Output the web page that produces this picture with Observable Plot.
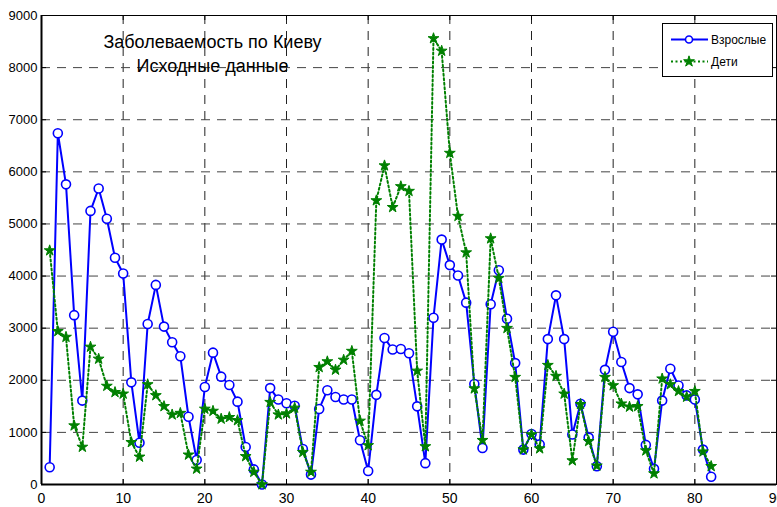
<!DOCTYPE html>
<html><head><meta charset="utf-8">
<script src="https://cdn.jsdelivr.net/npm/d3@7"></script>
<script src="https://cdn.jsdelivr.net/npm/@observablehq/plot@0.6"></script>
<style>
body{margin:0;background:#fff;}
#wrap{position:relative;width:777px;height:507px;overflow:hidden;}
#legend{position:absolute;left:662px;top:23px;width:109px;height:52px;border:1px solid #000;background:#fff;}
#legend svg{position:absolute;left:0;top:0;}
</style></head><body><div id="wrap"></div>
<script>
const days = [1,2,3,4,5,6,7,8,9,10,11,12,13,14,15,16,17,18,19,20,21,22,23,24,25,26,27,28,29,30,31,32,33,34,35,36,37,38,39,40,41,42,43,44,45,46,47,48,49,50,51,52,53,54,55,56,57,58,59,60,61,62,63,64,65,66,67,68,69,70,71,72,73,74,75,76,77,78,79,80,81,82];
const adults = [330,6740,5760,3250,1610,5250,5680,5100,4350,4050,1960,800,3080,3830,3030,2730,2460,1300,470,1870,2530,2070,1910,1590,720,290,0,1850,1630,1560,1510,680,190,1450,1810,1680,1630,1630,850,260,1720,2810,2590,2600,2520,1500,410,3200,4700,4210,4010,3490,1930,700,3460,4110,3180,2330,670,970,770,2790,3630,2790,960,1550,900,350,2200,2930,2350,1850,1730,760,300,1610,2220,1900,1710,1630,670,150];
const children = [4490,2940,2830,1130,720,2640,2410,1890,1770,1740,810,530,1920,1710,1500,1340,1370,570,300,1450,1410,1260,1290,1230,540,240,0,1580,1340,1360,1470,620,240,2250,2360,2200,2390,2560,1220,750,5450,6120,5320,5720,5630,2180,730,8560,8320,6360,5150,4450,1840,850,4720,3960,3000,2060,670,960,690,2290,2080,1740,460,1540,830,360,2060,1900,1550,1490,1500,650,210,2030,1920,1790,1680,1790,630,350];
const xTicks = [0,10,20,30,40,50,60,70,80,90];
const yTicks = [0,1000,2000,3000,4000,5000,6000,7000,8000,9000];
const seriesNames = ["Взрослые","Дети"];
const titleLines = ["Заболеваемость по Киеву","Исходные данные"];

const dataA = days.map((d,i)=>({x:d,y:adults[i]}));
const dataC = days.map((d,i)=>({x:d,y:children[i]}));
const blue = "#0000ff", green = "#008000";
const fontFam = "'Liberation Sans',Arial,Helvetica,sans-serif";

const plot = Plot.plot({
  width: 777, height: 507,
  marginLeft: 41, marginRight: 1, marginTop: 15, marginBottom: 23,
  style: {fontFamily: fontFam, fontSize: "13px", color: "#000", background: "#fff"},
  x: {domain: [0,90], label: null},
  y: {domain: [0,9000], label: null},
  marks: [
    Plot.gridX(xTicks, {stroke: "#222", strokeOpacity: 1, strokeDasharray: "9,7"}),
    Plot.gridY(yTicks, {stroke: "#444", strokeOpacity: 1, strokeDasharray: "9,7"}),
    Plot.tickX(xTicks, {x: d=>d, insetTop: 464, stroke: "#000"}),
    Plot.tickX(xTicks, {x: d=>d, insetBottom: 464, stroke: "#000"}),
    Plot.tickY(yTicks, {y: d=>d, insetRight: 730, stroke: "#000"}),
    Plot.tickY(yTicks, {y: d=>d, insetLeft: 730, stroke: "#000"}),
    Plot.axisX(xTicks, {tickSize: 0, tickPadding: 9, fontSize: 14, tickFormat: d3.format("d"), label: null}),
    Plot.axisY(yTicks, {tickSize: 0, tickPadding: 4, fontSize: 13, tickFormat: d3.format("d"), label: null}),
    Plot.frame({stroke: "#000"}),
    Plot.ruleY([0], {stroke: "#000", strokeWidth: 2}),
    Plot.ruleX([0], {stroke: "#000", strokeWidth: 2}),
    Plot.line(dataA, {x: "x", y: "y", stroke: blue, strokeWidth: 2}),
    Plot.dot(dataA, {x: "x", y: "y", r: 4.5, stroke: blue, strokeWidth: 1.6, fill: "#fff"}),
    Plot.line(dataC, {x: "x", y: "y", stroke: green, strokeWidth: 2, strokeDasharray: "2,2.5"}),
    Plot.dot(dataC, {x: "x", y: "y", symbol: "star", r: 3.4, stroke: green, strokeWidth: 1, fill: green}),
    Plot.text([titleLines[0]], {frameAnchor: "top-left", dx: 171, dy: 32, text: d=>d, textAnchor: "middle", lineAnchor: "bottom", fontSize: 18, fill: "#000"}),
    Plot.text([titleLines[1]], {frameAnchor: "top-left", dx: 171, dy: 56, text: d=>d, textAnchor: "middle", lineAnchor: "bottom", fontSize: 18, fill: "#000"})
  ]
});
const wrap = document.getElementById("wrap");
wrap.appendChild(plot);

// legend
const leg = document.createElement("div");
leg.id = "legend";
wrap.appendChild(leg);
const svg = d3.select(leg).append("svg").attr("width",109).attr("height",52);
const rows = [{name: seriesNames[0], y: 15.5, color: blue, dash: null, sym: "circle"},
              {name: seriesNames[1], y: 37.5, color: green, dash: "2,2.5", sym: "star"}];
rows.forEach(r => {
  svg.append("line").attr("x1",8).attr("x2",45).attr("y1",r.y).attr("y2",r.y)
    .attr("stroke",r.color).attr("stroke-width",2).attr("stroke-dasharray",r.dash);
  if (r.sym === "circle") {
    svg.append("circle").attr("cx",26).attr("cy",r.y).attr("r",3.5).attr("fill","#fff").attr("stroke",r.color).attr("stroke-width",1.6);
  } else {
    svg.append("path").attr("transform",`translate(26,${r.y})`).attr("d", d3.symbol(d3.symbolStar, 36)()).attr("fill",r.color).attr("stroke",r.color);
  }
  svg.append("text").attr("x",48).attr("y",r.y+4.5).attr("font-family",fontFam).attr("font-size",12).attr("fill","#000").text(r.name);
});
</script>
</body></html>
